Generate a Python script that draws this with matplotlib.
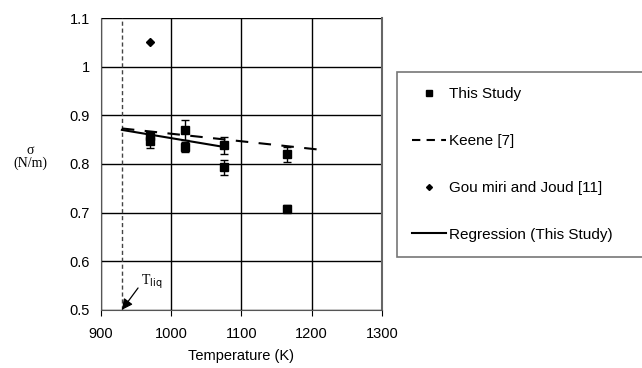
import matplotlib
matplotlib.use("Agg")
import matplotlib.pyplot as plt
from matplotlib.lines import Line2D

plt.rcParams['font.family'] = ['Liberation Sans', 'DejaVu Sans']

# Data
study_T = [970, 970, 1020, 1020, 1075, 1075, 1165, 1165]
study_sigma = [0.857, 0.847, 0.870, 0.835, 0.838, 0.793, 0.820, 0.708]
study_err = [0.008, 0.015, 0.020, 0.010, 0.018, 0.015, 0.015, 0.007]

keene_T = [930, 1220]
keene_sigma = [0.873, 0.828]

goumiri_T = [970]
goumiri_sigma = [1.05]

regr_T = [930, 1075]
regr_sigma = [0.870, 0.835]

T_liq = 930

xticks = [900, 1000, 1100, 1200, 1300]
yticks = [0.5, 0.6, 0.7, 0.8, 0.9, 1.0, 1.1]
yticklabels = ['0.5', '0.6', '0.7', '0.8', '0.9', '1', '1.1']

fig = plt.figure(figsize=(6.42, 3.68), dpi=100)
ax = fig.add_axes([0.157, 0.158, 0.438, 0.793])

ax.set_xlim(900, 1300)
ax.set_ylim(0.5, 1.1)
ax.set_xticks(xticks)
ax.set_yticks(yticks)
ax.set_yticklabels(yticklabels)
ax.grid(True, color='black', linewidth=1.0)
ax.set_axisbelow(True)
ax.tick_params(axis='y', labelsize=10.5, length=0, pad=8)
ax.tick_params(axis='x', labelsize=10.5, length=4, direction='out', color='black', pad=8)
for s in ['top', 'right']:
    ax.spines[s].set_visible(False)
ax.spines['left'].set_color('#555555')
ax.spines['bottom'].set_color('#555555')
ax.plot([1300, 1300], [0.5, 1.1], color='#666666', lw=1.5, clip_on=False, zorder=1)

ax.axvline(T_liq, color='#444444', lw=1.0, ls=(0, (3, 2)))

ax.plot(keene_T, keene_sigma, color='black', lw=1.5, ls=(0, (6, 5)), zorder=3)
ax.plot(regr_T, regr_sigma, color='black', lw=1.5, zorder=3)
ax.errorbar(study_T, study_sigma, yerr=study_err, fmt='s', color='black',
            ms=6, capsize=3, elinewidth=1, capthick=1, zorder=4)
ax.plot(goumiri_T, goumiri_sigma, 'D', color='black', ms=4, zorder=4)

ax.annotate('', xy=(T_liq, 0.5), xytext=(953, 0.545),
            arrowprops=dict(arrowstyle='-|>', color='black', lw=0.9,
                            mutation_scale=16, shrinkA=0, shrinkB=0),
            annotation_clip=False)
ax.text(957, 0.552, r'T$_{\rm liq}$', fontsize=10, family='Liberation Serif')

ax.set_xlabel('Temperature (K)', fontsize=10.5, labelpad=6)
fig.text(0.047, 0.573, 'σ\n(N/m)', fontsize=10, family='Liberation Serif',
         ha='center', va='center', linespacing=1.0)

handles = [
    Line2D([], [], marker='s', ls='none', color='black', ms=5),
    Line2D([], [], ls=(0, (4, 3)), color='black', lw=1.5),
    Line2D([], [], marker='D', ls='none', color='black', ms=3),
    Line2D([], [], ls='-', color='black', lw=1.5),
]
labels = ['This Study', 'Keene [7]', 'Gou miri and Joud [11]', 'Regression (This Study)']
leg = fig.legend(handles, labels, loc='center left',
                 bbox_to_anchor=(0.618, 0.302, 0.40, 0.502),
                 mode='expand',
                 fontsize=11, frameon=True, fancybox=False, edgecolor='#555555',
                 labelspacing=2.15, handlelength=2.2, handletextpad=0.2,
                 borderpad=1.0, borderaxespad=0)
leg.get_frame().set_linewidth(1.2)

fig.savefig('out.png', dpi=100)
